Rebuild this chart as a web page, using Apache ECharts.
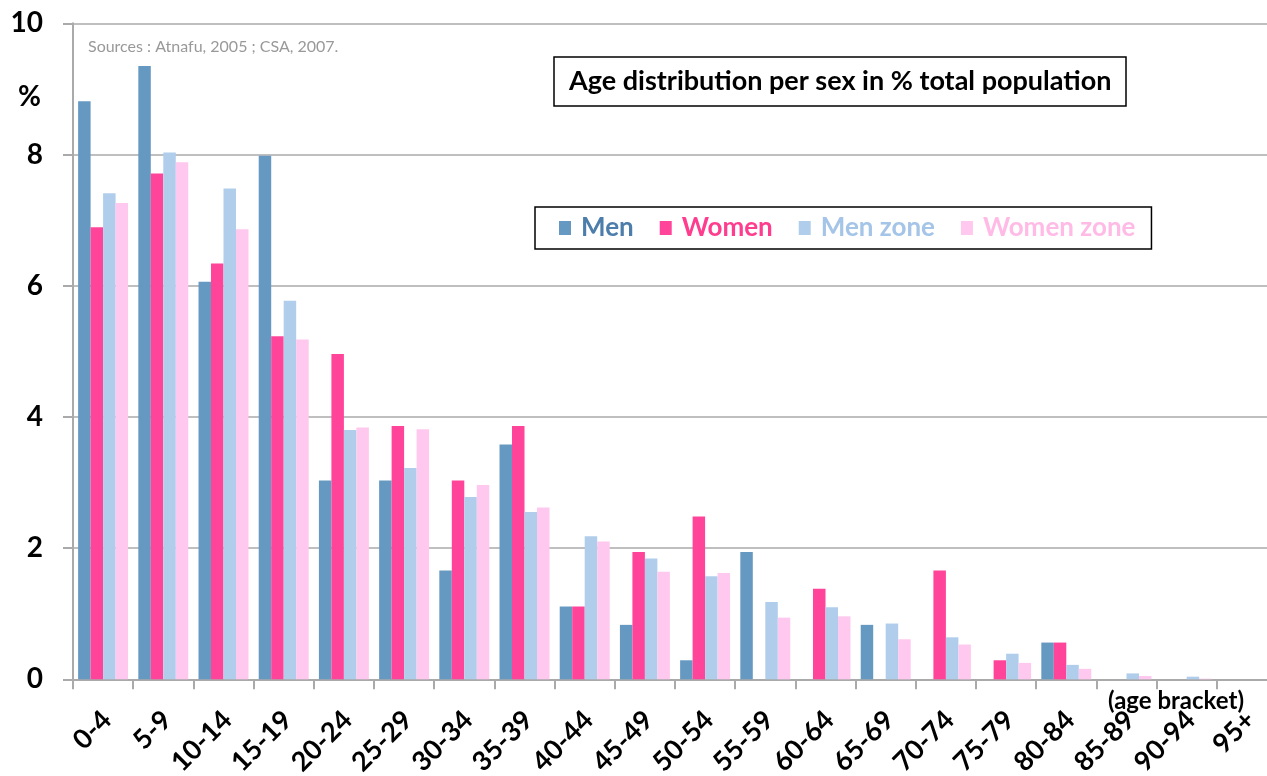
<!DOCTYPE html>
<html>
<head>
<meta charset="utf-8">
<script src="https://cdn.jsdelivr.net/npm/echarts@6/dist/echarts.min.js"></script>
<style>
  html, body { margin: 0; padding: 0; background: #fff; overflow: hidden; }
  #chart { width: 1290px; height: 776px; }
</style>
</head>
<body>
<div id="chart"></div>
<script>
// age brackets
var ageBrackets = ['0-4', '5-9', '10-14', '15-19', '20-24', '25-29', '30-34', '35-39', '40-44', '45-49',
  '50-54', '55-59', '60-64', '65-69', '70-74', '75-79', '80-84', '85-89', '90-94', '95+'];
// % of total population
var men       = [8.81, 9.35, 6.06, 7.98, 3.03, 3.03, 1.66, 3.58, 1.11, 0.83, 0.29, 1.94, 0, 0.83, 0, 0, 0.56, 0, 0, 0];
var women     = [6.89, 7.71, 6.34, 5.23, 4.96, 3.86, 3.03, 3.86, 1.11, 1.94, 2.48, 0, 1.38, 0, 1.66, 0.29, 0.56, 0, 0, 0];
var menZone   = [7.41, 8.03, 7.48, 5.77, 3.80, 3.22, 2.78, 2.55, 2.18, 1.84, 1.57, 1.18, 1.10, 0.85, 0.64, 0.39, 0.22, 0.09, 0.04, 0];
var womenZone = [7.26, 7.88, 6.86, 5.18, 3.84, 3.81, 2.96, 2.62, 2.10, 1.64, 1.62, 0.94, 0.96, 0.61, 0.53, 0.25, 0.16, 0.05, 0.01, 0];
var yTicks = [0, 2, 4, 6, 8, 10];

var font = 'Lato, "Open Sans", sans-serif';
var colors = ['#6699c2', '#ff4499', '#b0ceeb', '#ffc8ee'];
var legendColors = ['#4d7eab', '#ff3d8f', '#a4c4e8', '#ffbbe6'];
var names = ['Men', 'Women', 'Men zone', 'Women zone'];
var values = [men, women, menZone, womenZone];

var myChart = echarts.init(document.getElementById('chart'));
var option = {
  animation: false,
  textStyle: { fontFamily: font },
  title: {
    text: 'Age distribution per sex in % total population',
    left: 554, top: 57,
    padding: [11, 15, 11, 15],
    borderColor: '#000', borderWidth: 1.5,
    textStyle: { fontFamily: font, fontSize: 27, fontWeight: 'bold', color: '#000' }
  },
  legend: {
    left: 535, top: 207,
    padding: [8, 16, 8, 24],
    borderColor: '#000', borderWidth: 1.5,
    itemGap: 26,
    itemWidth: 12, itemHeight: 14,
    icon: 'rect',
    data: names.map(function (n, i) {
      return { name: n, textStyle: { color: legendColors[i] } };
    }),
    textStyle: { fontFamily: font, fontSize: 26, fontWeight: 'bold', padding: [0, 0, 0, 5] }
  },
  grid: { left: 73, right: 13, top: 23.3, bottom: 96.7, containLabel: false, outerBoundsMode: 'none' },
  xAxis: {
    type: 'category',
    data: ageBrackets,
    axisLine: { lineStyle: { color: '#aaaaaa', width: 2 } },
    axisTick: { show: true, length: 10, lineStyle: { color: '#aaaaaa', width: 2 } },
    axisLabel: {
      rotate: 45, margin: 21, align: 'right', verticalAlign: 'top', padding: [0, 8, 0, 0],
      fontSize: 27, fontWeight: 'bold', color: '#000', fontFamily: font, interval: 0, hideOverlap: false
    }
  },
  yAxis: {
    type: 'value',
    min: yTicks[0], max: yTicks[yTicks.length - 1], interval: 2,
    axisLine: { show: true, lineStyle: { color: '#aaaaaa', width: 2 } },
    axisTick: { show: true, length: 10, lineStyle: { color: '#aaaaaa', width: 2 } },
    splitLine: { lineStyle: { color: '#aaaaaa', width: 1.5 } },
    axisLabel: { margin: 30, fontSize: 28, fontWeight: 'bold', color: '#000', fontFamily: font }
  },
  graphic: [
    { type: 'text', left: 88, top: 39, style: { text: 'Sources : Atnafu, 2005 ; CSA, 2007.', fill: '#999999', font: '16px ' + font } },
    { type: 'text', left: 18, top: 83, style: { text: '%', fill: '#000', font: 'bold 28px ' + font } },
    { type: 'text', left: 1108, top: 689, style: { text: '(age bracket)', fill: '#000', font: 'bold 24px ' + font } }
  ],
  series: names.map(function (n, i) {
    return {
      name: n,
      type: 'bar',
      data: values[i],
      barGap: '0%',
      barCategoryGap: '17%',
      itemStyle: { color: colors[i] }
    };
  })
};
myChart.setOption(option);
</script>
</body>
</html>
